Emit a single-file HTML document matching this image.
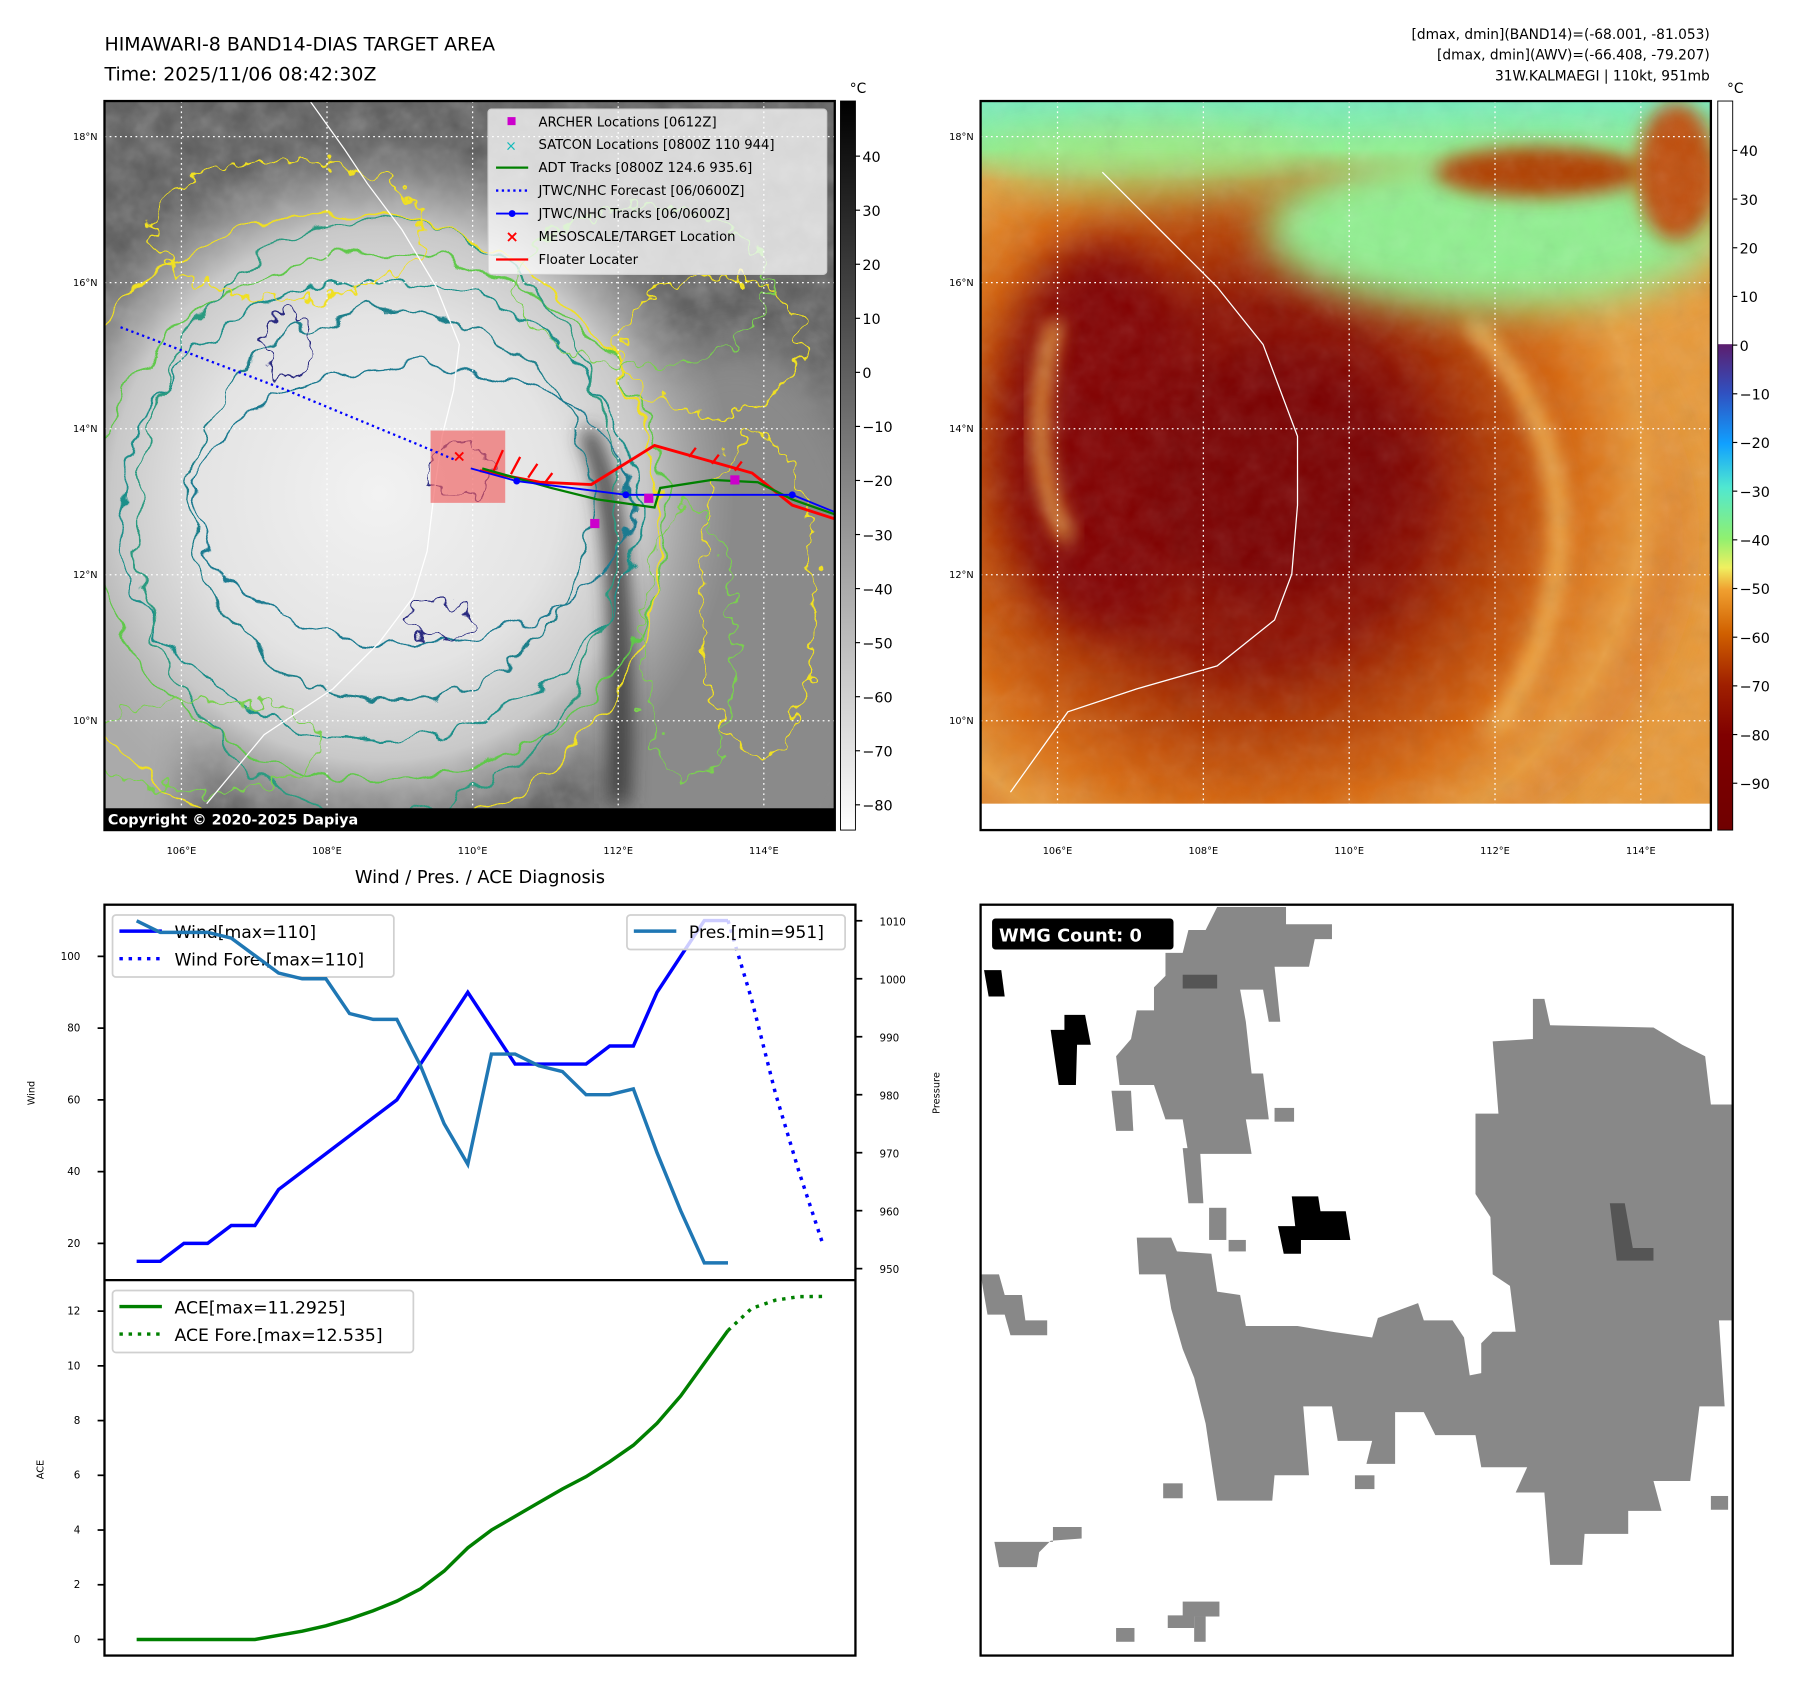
<!DOCTYPE html>
<html><head><meta charset="utf-8">
<style>
html,body{margin:0;padding:0;background:#fff;}
svg{display:block;font-family:"DejaVu Sans","Liberation Sans",sans-serif;}
</style></head>
<body>
<svg id="root" width="1797" height="1690" viewBox="0 0 1565 1472" preserveAspectRatio="none" xmlns="http://www.w3.org/2000/svg">
<defs>
  <filter id="wig" x="-20%" y="-20%" width="140%" height="140%">
    <feTurbulence type="fractalNoise" baseFrequency="0.04" numOctaves="2" seed="3"/>
    <feDisplacementMap in="SourceGraphic" scale="26" xChannelSelector="R" yChannelSelector="G"/>
  </filter>
  <filter id="wig2" x="-20%" y="-20%" width="140%" height="140%">
    <feTurbulence type="fractalNoise" baseFrequency="0.07" numOctaves="2" seed="8"/>
    <feDisplacementMap in="SourceGraphic" scale="30" xChannelSelector="R" yChannelSelector="G"/>
  </filter>
  <filter id="noise"><feTurbulence type="fractalNoise" baseFrequency="0.05" numOctaves="3" seed="5"/><feColorMatrix type="saturate" values="0"/></filter>
  <filter id="blur" x="-60%" y="-60%" width="220%" height="220%"><feGaussianBlur stdDeviation="18"/></filter>
  <filter id="blur2" x="-60%" y="-60%" width="220%" height="220%"><feGaussianBlur stdDeviation="8"/></filter>
  <radialGradient id="eyeg" cx="330" cy="430" r="310" gradientUnits="userSpaceOnUse">
    <stop offset="0" stop-color="#f2f2f2"/><stop offset="0.5" stop-color="#e4e4e4"/><stop offset="0.75" stop-color="#c8c8c8"/><stop offset="1" stop-color="#b0b0b0" stop-opacity="0"/>
  </radialGradient>
  <radialGradient id="rg" cx="1090" cy="420" r="380" gradientUnits="userSpaceOnUse">
    <stop offset="0" stop-color="#8a0a00"/><stop offset="0.4" stop-color="#8e1000"/><stop offset="0.55" stop-color="#b03800"/><stop offset="0.75" stop-color="#d86a10"/><stop offset="0.9" stop-color="#e89a3a"/><stop offset="1" stop-color="#e89a3a" stop-opacity="0"/>
  </radialGradient>
  <linearGradient id="topg" x1="0" y1="0" x2="0" y2="1">
    <stop offset="0" stop-color="#78eec0"/><stop offset="0.6" stop-color="#90f090"/><stop offset="1" stop-color="#90f090" stop-opacity="0"/>
  </linearGradient>
  <linearGradient id="cbl" x1="0" y1="0" x2="0" y2="1">
    <stop offset="0" stop-color="#000"/><stop offset="1" stop-color="#fff"/>
  </linearGradient>
  <linearGradient id="cbr" x1="0" y1="0" x2="0" y2="1">
    <stop offset="0" stop-color="#fff"/><stop offset="0.333" stop-color="#fff"/>
    <stop offset="0.334" stop-color="#5c1e6e"/><stop offset="0.40" stop-color="#3050c0"/>
    <stop offset="0.47" stop-color="#10a0ff"/><stop offset="0.53" stop-color="#50e8d0"/>
    <stop offset="0.60" stop-color="#90f070"/><stop offset="0.64" stop-color="#f0f060"/>
    <stop offset="0.67" stop-color="#f0a030"/><stop offset="0.73" stop-color="#d06000"/>
    <stop offset="0.80" stop-color="#a02000"/><stop offset="0.87" stop-color="#800000"/>
    <stop offset="1" stop-color="#700000"/>
  </linearGradient>
  <clipPath id="c1"><rect x="91" y="88" width="636" height="635"/></clipPath>
  <clipPath id="c2"><rect x="854" y="88" width="636" height="635"/></clipPath>
</defs>

<!-- Titles -->
<text x="91" y="44" font-size="16.5">HIMAWARI-8 BAND14-DIAS TARGET AREA</text>
<text x="91" y="70" font-size="16.5">Time: 2025/11/06 08:42:30Z</text>
<g font-size="12" text-anchor="end">
  <text x="1489" y="34">[dmax, dmin](BAND14)=(-68.001, -81.053)</text>
  <text x="1489" y="52">[dmax, dmin](AWV)=(-66.408, -79.207)</text>
  <text x="1489" y="70">31W.KALMAEGI | 110kt, 951mb</text>
</g>

<!-- LEFT MAP -->
<g clip-path="url(#c1)">
  <rect x="91" y="88" width="636" height="635" fill="#5c5c5c"/>
  <rect x="91" y="88" width="636" height="635" filter="url(#noise)" opacity="0.35"/>
  <ellipse cx="640" cy="560" rx="140" ry="260" fill="#8a8a8a" filter="url(#blur)"/>
  <ellipse cx="110" cy="600" rx="60" ry="200" fill="#aaa" filter="url(#blur)"/>
  <rect x="91" y="88" width="636" height="635" fill="url(#eyeg)"/>
  <path d="M515,370 C545,420 555,520 548,700 L530,700 C535,520 528,430 505,380 Z" fill="#3a3a3a" filter="url(#blur2)"/>
  <g fill="none" stroke-width="1.6" filter="url(#wig)">
    <ellipse cx="340" cy="440" rx="175" ry="170" stroke="#1f7f8a"/>
    <ellipse cx="330" cy="445" rx="225" ry="200" stroke="#1f8f8a"/>
    <ellipse cx="330" cy="450" rx="250" ry="230" stroke="#5fc84a"/>
    <ellipse cx="330" cy="450" rx="210" ry="260" stroke="#2a9a80"/>
    <ellipse cx="300" cy="460" rx="275" ry="275" stroke="#f0e020"/>
    <ellipse cx="360" cy="440" rx="190" ry="120" stroke="#1a7a90"/>
  </g>
  <g fill="none" stroke-width="1.6" filter="url(#wig2)">
    <ellipse cx="620" cy="300" rx="80" ry="60" stroke="#f0e020"/>
    <ellipse cx="660" cy="520" rx="50" ry="140" stroke="#f0e020"/>
    <ellipse cx="600" cy="560" rx="40" ry="120" stroke="#7ad050"/>
    <ellipse cx="560" cy="250" rx="110" ry="70" stroke="#7ad050"/>
    <ellipse cx="250" cy="200" rx="120" ry="60" stroke="#f0e020"/>
    <ellipse cx="180" cy="650" rx="100" ry="40" stroke="#7ad050"/>
    <ellipse cx="250" cy="300" rx="20" ry="30" stroke="#2a2a80"/>
    <ellipse cx="400" cy="410" rx="25" ry="25" stroke="#2a2a80"/>
    <ellipse cx="380" cy="540" rx="30" ry="15" stroke="#2a2a80"/>
  </g>
  <path d="M270,88 L300,130 L320,160 L350,200 L380,250 L400,300 L395,340 L385,380 L378,430 L372,480 L360,520 L330,560 L290,600 L230,640 L180,700" fill="none" stroke="#fff" stroke-width="1.1"/>
  <g id="grid1" stroke="#fff" stroke-width="1.1" stroke-dasharray="1.5,3"></g>
  <rect x="375" y="375" width="65" height="63" fill="#f06060" opacity="0.65"/>
  <polyline points="105,285 250,340 395,400" fill="none" stroke="#00f" stroke-width="2" stroke-dasharray="2,3"/>
  <polyline points="418,410 470,420 515,422 570,388 655,412 690,440 727,452" fill="none" stroke="#f00" stroke-width="2.5"/>
  <g stroke="#f00" stroke-width="2">
    <path d="M430,410 l8,-18 M445,413 l8,-15 M460,416 l8,-12 M475,420 l6,-8 M600,398 l6,-8 M620,404 l6,-8 M640,410 l6,-8"/>
  </g>
  <polyline points="420,408 480,425 520,435 570,442 575,425 620,418 660,420 690,435 727,448" fill="none" stroke="#008000" stroke-width="2"/>
  <polyline points="410,408 450,419 545,431 690,431 727,446" fill="none" stroke="#00f" stroke-width="1.6"/>
  <g fill="#00f"><circle cx="450" cy="419" r="3"/><circle cx="545" cy="431" r="3"/><circle cx="690" cy="431" r="3"/></g>
  <g fill="#c0c"><rect x="514" y="452" width="8" height="8"/><rect x="561" y="430" width="8" height="8"/><rect x="636" y="414" width="8" height="8"/></g>
  <text x="400" y="402" fill="#f00" font-size="14" font-weight="bold" text-anchor="middle">×</text>
  <rect x="91" y="704" width="636" height="19" fill="#000"/>
  <text x="94" y="718" fill="#fff" font-size="12.5" font-weight="bold">Copyright © 2020-2025 Dapiya</text>
</g>
<rect x="91" y="88" width="636" height="635" fill="none" stroke="#000" stroke-width="2"/>
<!-- Legend -->
<g font-size="11.5">
  <rect x="425" y="95" width="295" height="144" rx="3" fill="#fff" fill-opacity="0.75" stroke="#ccc"/>
  <rect x="442" y="102" width="7" height="7" fill="#c0c"/><text x="469" y="110">ARCHER Locations [0612Z]</text>
  <text x="445" y="131" fill="#1bb" font-size="12" text-anchor="middle">×</text><text x="469" y="130">SATCON Locations [0800Z 110 944]</text>
  <line x1="432" y1="146" x2="460" y2="146" stroke="#008000" stroke-width="2"/><text x="469" y="150">ADT Tracks [0800Z 124.6 935.6]</text>
  <line x1="432" y1="166" x2="460" y2="166" stroke="#00f" stroke-width="2" stroke-dasharray="2,3"/><text x="469" y="170">JTWC/NHC Forecast [06/0600Z]</text>
  <line x1="432" y1="186" x2="460" y2="186" stroke="#00f" stroke-width="1.6"/><circle cx="446" cy="186" r="3" fill="#00f"/><text x="469" y="190">JTWC/NHC Tracks [06/0600Z]</text>
  <text x="446" y="211" fill="#f00" font-size="14" font-weight="bold" text-anchor="middle">×</text><text x="469" y="210">MESOSCALE/TARGET Location</text>
  <line x1="432" y1="226" x2="460" y2="226" stroke="#f00" stroke-width="2"/><text x="469" y="230">Floater Locater</text>
</g>
<!-- left colorbar -->
<g>
  <rect x="732" y="88" width="13" height="635" fill="url(#cbl)" stroke="#000" stroke-width="0.8"/>
  <text x="740" y="81" font-size="12">°C</text>
  <g id="cbl-ticks" font-size="12.5"></g>
</g>

<!-- RIGHT MAP -->
<g clip-path="url(#c2)">
  <rect x="854" y="88" width="636" height="635" fill="#e89a3a"/>
  <ellipse cx="1080" cy="470" rx="380" ry="300" fill="#d87020" filter="url(#blur)"/>
  <rect x="854" y="88" width="636" height="635" fill="url(#rg)"/>
  <ellipse cx="960" cy="380" rx="90" ry="170" fill="#820600" filter="url(#blur)"/>
  <ellipse cx="1110" cy="410" rx="120" ry="110" fill="#7a0000" filter="url(#blur)"/>
  <path d="M1280,280 C1380,380 1380,520 1300,640" stroke="#f0b050" stroke-width="16" fill="none" filter="url(#blur2)"/>
  <path d="M920,280 C900,340 900,420 930,470" stroke="#e8a040" stroke-width="14" fill="none" filter="url(#blur2)"/>
  <rect x="854" y="88" width="636" height="70" fill="url(#topg)"/>
  <ellipse cx="1300" cy="200" rx="200" ry="70" fill="#90f090" filter="url(#blur)"/>
  <ellipse cx="1000" cy="140" rx="140" ry="30" fill="#a0e880" filter="url(#blur)" opacity="0.8"/>
  <ellipse cx="1340" cy="150" rx="90" ry="22" fill="#b04000" filter="url(#blur2)"/>
  <ellipse cx="1460" cy="150" rx="35" ry="60" fill="#c05010" filter="url(#blur2)"/>
  <rect x="854" y="88" width="636" height="635" filter="url(#noise)" opacity="0.15"/>
  <rect x="854" y="700" width="636" height="23" fill="#fff"/>
  <path d="M960,150 L1010,200 L1060,250 L1100,300 L1130,380 L1130,440 L1125,500 L1110,540 L1060,580 L990,600 L930,620 L880,690" fill="none" stroke="#fff" stroke-width="1.1"/>
  <g id="grid2" stroke="#fff" stroke-width="1.1" stroke-dasharray="1.5,3"></g>
</g>
<rect x="854" y="88" width="636" height="635" fill="none" stroke="#000" stroke-width="2"/>
<g>
  <rect x="1496" y="88" width="13" height="635" fill="url(#cbr)" stroke="#000" stroke-width="0.8"/>
  <text x="1504" y="81" font-size="12">°C</text>
  <g id="cbr-ticks" font-size="12.5"></g>
</g>
<g id="geo-labels" font-size="8.5"></g>

<!-- LOWER LEFT CHART -->
<text x="418" y="769" font-size="15.5" text-anchor="middle">Wind / Pres. / ACE Diagnosis</text>
<g id="chart"></g>

<!-- WMG PANEL -->
<g>
  <rect x="854" y="788" width="655" height="654" fill="#fff"/>
  <g fill="#888">
    <polygon points="1300,907 1335,905 1335,870 1345,870 1350,893 1440,895 1465,910 1485,920 1490,962 1509,962 1509,1150 1497,1150 1502,1225 1480,1225 1472,1290 1440,1290 1447,1316 1418,1316 1418,1336 1380,1336 1378,1363 1350,1363 1345,1300 1320,1300 1330,1278 1290,1278 1285,1250 1250,1250 1240,1230 1215,1230 1215,1275 1190,1275 1195,1255 1165,1255 1160,1225 1135,1225 1140,1285 1110,1285 1108,1307 1060,1307 1050,1240 1040,1200 1030,1175 1020,1140 1015,1110 992,1110 990,1078 1020,1078 1025,1090 1055,1092 1060,1125 1080,1128 1085,1155 1130,1155 1160,1160 1195,1165 1200,1148 1235,1135 1240,1150 1265,1150 1275,1165 1280,1198 1290,1196 1290,1170 1300,1160 1320,1160 1315,1120 1300,1110 1298,1060 1285,1040 1285,970 1305,970"/>
    <polygon points="1060,790 1120,790 1120,805 1160,805 1160,818 1145,818 1140,842 1110,842 1115,890 1105,890 1100,862 1080,862 1085,890 1090,935 1100,935 1105,975 1085,975 1090,1005 1035,1005 1030,975 1015,975 1005,945 975,945 972,920 985,905 990,880 1005,880 1005,860 1015,850 1015,830 1030,830 1035,810 1050,810"/>
    <polygon points="1030,1000 1045,1000 1048,1048 1035,1048"/>
    <polygon points="968,950 985,950 987,985 972,985"/>
    <polygon points="854,1110 870,1110 875,1128 890,1128 893,1150 912,1150 912,1163 880,1163 875,1145 860,1145"/>
    <polygon points="866,1343 917,1343 917,1330 942,1330 942,1340 915,1342 905,1352 903,1365 870,1365"/>
    <rect x="1013" y="1292" width="17" height="13"/><rect x="1110" y="965" width="17" height="12"/>
    <rect x="1070" y="1080" width="15" height="10"/><rect x="1053" y="1052" width="15" height="28"/>
    <rect x="1180" y="1285" width="17" height="12"/><rect x="1490" y="1303" width="15" height="12"/>
    <rect x="972" y="1418" width="16" height="12"/><rect x="1030" y="1395" width="32" height="13"/>
    <rect x="1040" y="1408" width="10" height="22"/><rect x="1017" y="1407" width="23" height="11"/>
  </g>
  <g fill="#555"><rect x="1030" y="849" width="30" height="12"/><polygon points="1402,1048 1415,1048 1422,1087 1440,1087 1440,1098 1408,1098"/></g>
  <g fill="#000">
    <polygon points="927,884 945,884 950,910 938,910 937,945 922,945 915,897 927,897"/>
    <polygon points="1125,1042 1148,1042 1150,1055 1172,1055 1176,1080 1133,1080 1133,1092 1118,1092 1113,1068 1128,1068"/>
    <polygon points="857,845 872,845 875,868 861,868"/>
  </g>
  <rect x="854" y="788" width="655" height="654" fill="none" stroke="#000" stroke-width="2"/>
  <rect x="864" y="800" width="158" height="27" rx="3" fill="#000"/>
  <text x="870" y="820" fill="#fff" font-size="15.5" font-weight="bold">WMG Count: 0</text>
</g>

<script>
// ---- Chart data ----
const windObs = [15,15,20,20,25,25,35,40,45,50,55,60,70,80,90,80,70,70,70,70,75,75,90,100,110,110];
const windFcst = [110,88,62,40,20];
const presObs = [1010,1008,1008,1008,1007,1004,1001,1000,1000,994,993,993,985,975,968,987,987,985,984,980,980,981,970,960,951,951];
const aceObs = [0,0,0,0,0,0,0.15,0.3,0.5,0.75,1.05,1.4,1.85,2.5,3.35,4.0,4.5,5.0,5.5,5.95,6.5,7.1,7.9,8.9,10.1,11.29];
const aceFcst = [11.29,12.1,12.4,12.53,12.535];
const windTicks = [20,40,60,80,100];
const presTicks = [950,960,970,980,990,1000,1010];
const aceTicks = [0,2,4,6,8,10,12];
const irCbTicks = [40,30,20,10,0,-10,-20,-30,-40,-50,-60,-70,-80];
const awvCbTicks = [40,30,20,10,0,-10,-20,-30,-40,-50,-60,-70,-80,-90];
const lonTicks = [106,108,110,112,114];
const latTicks = [10,12,14,16,18];

const NS = 'http://www.w3.org/2000/svg';
function mk(tag, attrs, parent){ const e=document.createElementNS(NS,tag); for(const k in attrs) e.setAttribute(k,attrs[k]); parent.appendChild(e); return e; }

const xIdx = i => 119 + i*20.6;
const yWind = v => 833 + (100 - v)*3.125;
const yPres = v => 802 + (1010 - v)*(303/60);
const yAce = v => 1428 - v*(286/12);
const lonX1 = l => 158 + (l-106)*63.4;
const lonX2 = l => 921 + (l-106)*63.5;
const latY = l => 119 + (18-l)*63.6;
const cbL = v => 136 + (40 - v)*(565/120);
const cbR = v => 131 + (40 - v)*4.24;

const chart = document.getElementById('chart');
mk('rect',{x:91,y:788,width:654,height:654,fill:'#fff',stroke:'#000','stroke-width':2},chart);
mk('line',{x1:91,y1:1115,x2:745,y2:1115,stroke:'#000','stroke-width':2},chart);
windTicks.forEach(v=>{ const y=yWind(v);
  mk('line',{x1:85,y1:y,x2:91,y2:y,stroke:'#000','stroke-width':1.5},chart);
  const t=mk('text',{x:70,y:y+3,'font-size':9,'text-anchor':'end'},chart); t.textContent=v;
  
  
});
presTicks.forEach(v=>{ const y=yPres(v);
  mk('line',{x1:745,y1:y,x2:751,y2:y,stroke:'#000','stroke-width':1.5},chart);
  const t=mk('text',{x:766,y:y+4,'font-size':9},chart); t.textContent=v;
  
  
});
aceTicks.forEach(v=>{ const y=yAce(v);
  mk('line',{x1:85,y1:y,x2:91,y2:y,stroke:'#000','stroke-width':1.5},chart);
  const t=mk('text',{x:70,y:y+3,'font-size':9,'text-anchor':'end'},chart); t.textContent=v;
  
  
});
function lbl(txt,x,y,name){ const t=mk('text',{x:x,y:y,'font-size':8.5,'text-anchor':'middle',transform:`rotate(-90 ${x} ${y})`},chart); t.textContent=txt;
  
   }
lbl('Wind',30,952,'wind-axis-title'); lbl('Pressure',818,952,'pressure-axis-title'); lbl('ACE',38,1280,'ace-axis-title');

function line(arr,off,yf,color,w,dash,name){
  const pts=arr.map((v,i)=>xIdx(i+off).toFixed(1)+','+yf(v).toFixed(1)).join(' ');
  const p=mk('polyline',{points:pts,fill:'none',stroke:color,'stroke-width':w},chart);
  if(dash) p.setAttribute('stroke-dasharray',dash);
  
  
}
function legend(x,y,w,h,items,name){
  const g=mk('g',{},chart);
  
  
  mk('rect',{x:x,y:y,width:w,height:h,rx:3,fill:'#fff','fill-opacity':0.8,stroke:'#d0d0d0','stroke-width':1.5},g);
  items.forEach((it,k)=>{ const yy=y+14+k*24;
    const l=mk('line',{x1:x+6,y1:yy,x2:x+43,y2:yy,stroke:it[1],'stroke-width':3},g);
    if(it[2]) l.setAttribute('stroke-dasharray','3,5');
    const t=mk('text',{x:x+54,y:yy+6,'font-size':15},g); t.textContent=it[0];
  });
}
line(windObs,0,yWind,'#0000ff',3,null,'wind-line');
line(windFcst,windObs.length-1,yWind,'#0000ff',3,'3,5','wind-forecast-line');
legend(98,797,245,54,[['Wind[max=110]','#0000ff',false],['Wind Fore.[max=110]','#0000ff',true]],'wind-legend');
line(presObs,0,yPres,'#1f77b4',3,null,'pressure-line');
legend(546,797,190,30,[['Pres.[min=951]','#1f77b4',false]],'pressure-legend');
line(aceObs,0,yAce,'#008000',3,null,'ace-line');
line(aceFcst,aceObs.length-1,yAce,'#008000',3,'3,5','ace-forecast-line');
legend(98,1124,262,54,[['ACE[max=11.2925]','#008000',false],['ACE Fore.[max=12.535]','#008000',true]],'ace-legend');

const gl=document.getElementById('cbl-ticks');
irCbTicks.forEach(v=>{ const y=cbL(v);
  mk('line',{x1:745,y1:y,x2:749,y2:y,stroke:'#000'},gl);
  const t=mk('text',{x:751,y:y+5},gl); t.textContent=(v<0?'\u2212'+(-v):v);
  
  
});
const gr=document.getElementById('cbr-ticks');
awvCbTicks.forEach(v=>{ const y=cbR(v);
  mk('line',{x1:1509,y1:y,x2:1513,y2:y,stroke:'#000'},gr);
  const t=mk('text',{x:1515,y:y+5},gr); t.textContent=(v<0?'\u2212'+(-v):v);
  
  
});

const g1=document.getElementById('grid1'), g2=document.getElementById('grid2'), geo=document.getElementById('geo-labels');
lonTicks.forEach(l=>{
  mk('line',{x1:lonX1(l),y1:88,x2:lonX1(l),y2:723},g1);
  mk('line',{x1:lonX2(l),y1:88,x2:lonX2(l),y2:723},g2);
  const a=mk('text',{x:lonX1(l),y:744,'text-anchor':'middle'},geo); a.textContent=l+'°E';
  
  
  const b=mk('text',{x:lonX2(l),y:744,'text-anchor':'middle'},geo); b.textContent=l+'°E';
  
  
});
latTicks.forEach(l=>{
  mk('line',{x1:91,y1:latY(l),x2:727,y2:latY(l)},g1);
  mk('line',{x1:854,y1:latY(l),x2:1490,y2:latY(l)},g2);
  const a=mk('text',{x:85,y:latY(l)+3,'text-anchor':'end'},geo); a.textContent=l+'°N';
  
  
  const b=mk('text',{x:848,y:latY(l)+3,'text-anchor':'end'},geo); b.textContent=l+'°N';
  
  
});
</script>
</svg>
</body></html>
